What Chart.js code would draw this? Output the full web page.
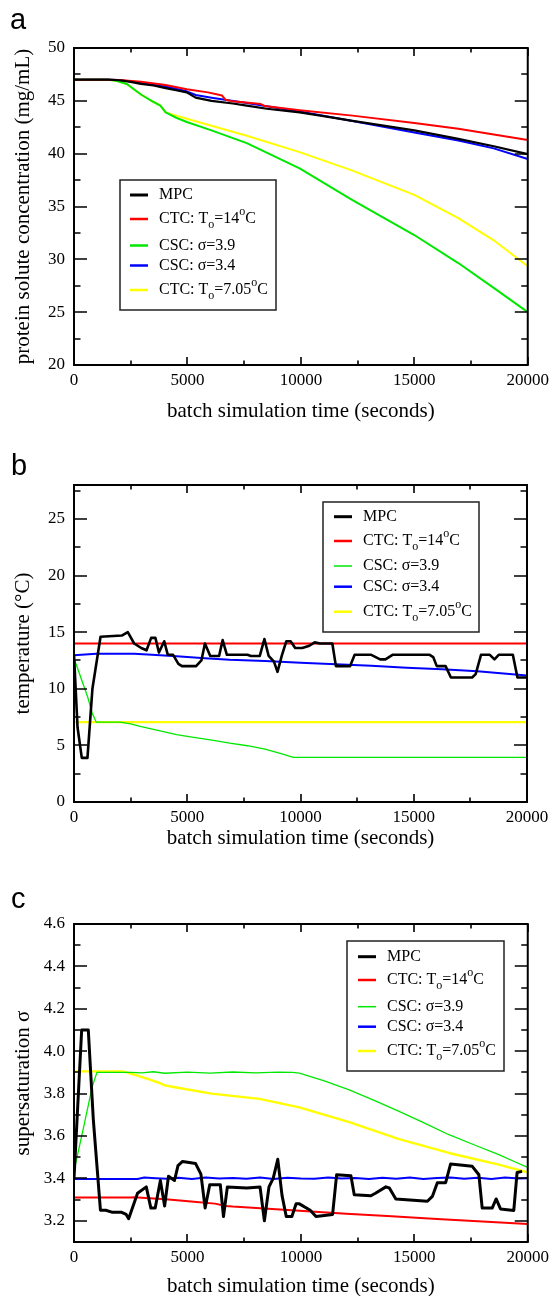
<!DOCTYPE html>
<html><head><meta charset="utf-8">
<script src="https://cdn.jsdelivr.net/npm/chart.js@4.4.1/dist/chart.umd.min.js"></script>
<style>
html,body{margin:0;padding:0;background:#fff;width:554px;height:1296px;overflow:hidden;}
canvas{position:absolute;left:0;}
</style></head><body>
<canvas id="ca" width="554" height="430" style="top:0px"></canvas>
<canvas id="cb" width="554" height="430" style="top:430px"></canvas>
<canvas id="cc" width="554" height="460" style="top:860px"></canvas>
<script>
// ---------------- DATA ----------------
const SERIES_LABELS = ['MPC', 'CTC: T_o=14^oC', 'CSC: σ=3.9', 'CSC: σ=3.4', 'CTC: T_o=7.05^oC'];
const X_TITLE = 'batch simulation time (seconds)';
const Y_TITLES = ['protein solute concentration (mg/mL)', 'temperature (°C)', 'supersaturation σ'];
const PANEL_LETTERS = ['a', 'b', 'c'];

// Panel a: protein solute concentration (mg/mL)
const A_MPC_T = [0,1500,2000,2500,2950,3500,4040,4500,4970,5360,6060,7000,7615,8500,9945,11000,12276,13500,15000,16940,18500,20000];
const A_MPC   = [47.0,47.0,46.95,46.8,46.6,46.45,46.2,46.0,45.8,45.3,45.0,44.75,44.55,44.25,43.9,43.55,43.1,42.7,42.2,41.4,40.7,39.95];
const A_CTC14_T = [0,1500,2000,2950,4040,4970,5905,6527,6682,7000,8236,8400,9945,12276,15000,16940,20000];
const A_CTC14   = [47.0,47.0,46.98,46.8,46.5,46.1,45.8,45.5,45.1,44.95,44.7,44.5,44.1,43.6,42.9,42.35,41.3];
const A_CSC39_T = [0,1500,1865,2331,2953,3419,3808,4040,4507,4973,6061,7615,9945,12276,15000,16939,18500,20000];
const A_CSC39   = [47.0,47.0,46.9,46.6,45.6,45.0,44.55,43.9,43.4,43.0,42.2,41.0,38.6,35.6,32.3,29.65,27.3,25.0];
const A_CSC34_T = [0,1500,2000,2950,4040,4970,5362,6061,7615,9945,12276,15000,16940,18500,20000];
const A_CSC34   = [47.0,47.0,46.97,46.7,46.35,45.9,45.55,45.3,44.8,44.0,43.1,42.0,41.25,40.5,39.5];
const A_CTC705_T = [0,1500,1865,2331,2953,3419,3808,4040,4507,4973,6061,7615,9945,12276,15000,16939,18500,20000];
const A_CTC705   = [47.0,47.0,46.9,46.6,45.6,45.0,44.55,43.9,43.6,43.3,42.65,41.7,40.15,38.4,36.1,33.9,31.8,29.35];

// Panel b: temperature (°C)
const B_MPC_T = [0,156,344,594,813,1172,2109,2375,2656,2969,3203,3406,3594,3750,3984,4141,4375,4609,4766,5391,5625,5781,6016,6406,6563,6750,7656,7813,8203,8406,8594,8828,8984,9172,9375,9563,9766,10078,10391,10625,10859,11406,11563,12188,12391,13125,13516,13750,14063,15703,15859,16016,16406,16641,17578,17734,17969,18359,18563,18750,19375,19578,20000];
const B_MPC   = [13.0,6.6,3.9,3.9,10.0,14.6,14.7,15.0,14.0,13.6,13.4,14.5,14.5,13.2,14.2,13.0,13.0,12.2,12.0,12.0,12.5,14.0,12.9,12.9,14.3,13.0,13.0,12.9,12.9,14.4,12.9,12.4,11.5,12.9,14.2,14.2,13.6,13.6,13.8,14.1,14.0,14.0,12.0,12.0,13.0,13.0,12.6,12.6,13.0,13.0,12.8,12.0,12.0,11.0,11.0,11.3,13.0,13.0,12.6,13.0,13.0,11.0,11.0];
const B_CTC14_T = [0,20000];
const B_CTC14   = [14.0,14.0];
const B_CSC39_T = [0,300,600,813,984,2031,2500,2969,3750,4531,5000,6094,6875,7656,8438,9219,9688,20000];
const B_CSC39   = [12.7,11.0,9.3,7.8,7.05,7.05,6.9,6.66,6.3,5.95,5.8,5.47,5.2,4.97,4.67,4.23,3.95,3.95];
const B_CSC34_T = [0,984,2656,3438,4531,5781,6875,8438,10000,11563,13125,14688,16250,17813,20000];
const B_CSC34   = [12.96,13.1,13.1,13.0,12.87,12.7,12.57,12.46,12.3,12.16,12.04,11.86,11.72,11.54,11.18];
const B_CTC705_T = [0,20000];
const B_CTC705   = [7.05,7.05];

// Panel c: supersaturation σ
const C_MPC_T = [0,338,630,850,1165,1400,1700,2100,2300,2409,2800,3186,3388,3580,3807,3994,4165,4429,4584,4786,5361,5594,5781,5983,6449,6589,6760,7615,8200,8392,8594,8780,8982,9169,9355,9604,9790,9934,10412,10667,11398,11575,12206,12352,13085,13287,13745,13900,14185,15576,15795,16015,16381,16601,17553,17846,17992,18432,18608,18798,19385,19530,19750];
const C_MPC   = [3.40,4.10,4.10,3.68,3.25,3.25,3.24,3.24,3.23,3.21,3.33,3.36,3.26,3.26,3.39,3.27,3.41,3.39,3.46,3.48,3.47,3.42,3.26,3.37,3.37,3.22,3.36,3.355,3.36,3.20,3.36,3.40,3.49,3.32,3.22,3.22,3.28,3.28,3.25,3.22,3.23,3.417,3.413,3.323,3.318,3.33,3.36,3.355,3.303,3.292,3.315,3.38,3.38,3.468,3.457,3.417,3.26,3.26,3.303,3.256,3.249,3.428,3.433];
const C_CTC14_T = [0,2500,2642,4040,5284,6216,6682,6993,9945,12000,14000,16000,18000,20000];
const C_CTC14   = [3.31,3.31,3.311,3.302,3.29,3.281,3.27,3.267,3.247,3.233,3.221,3.209,3.197,3.185];
const C_CSC39_T = [0,400,808,1010,1500,2500,3000,3500,4000,5000,6000,7000,8000,9000,9640,9934,11032,12132,13230,14330,15430,16527,17600,18725,19500,20000];
const C_CSC39   = [3.435,3.63,3.834,3.90,3.90,3.90,3.898,3.903,3.896,3.901,3.897,3.902,3.898,3.901,3.90,3.897,3.860,3.818,3.768,3.716,3.662,3.606,3.56,3.512,3.475,3.452];
const C_CSC34_T = [0,1000,2000,2800,3100,3600,4100,4600,5200,5800,6400,7000,7600,8200,8800,9400,10000,10600,11200,11800,12400,13000,13600,14200,14800,15400,16000,16600,17200,17800,18400,19000,19600,20000];
const C_CSC34   = [3.397,3.397,3.397,3.397,3.404,3.401,3.398,3.403,3.397,3.404,3.399,3.402,3.398,3.404,3.397,3.403,3.399,3.398,3.404,3.399,3.402,3.397,3.403,3.398,3.404,3.397,3.402,3.404,3.398,3.403,3.397,3.404,3.399,3.401];
const C_CTC705_T = [0,2167,2800,3341,3780,4000,4507,6061,8176,9934,12132,14330,16527,18725,20000];
const C_CTC705   = [3.905,3.905,3.885,3.866,3.85,3.839,3.829,3.80,3.775,3.735,3.665,3.585,3.52,3.465,3.428];

// ---------------- STYLE ----------------
const SERIF = '"Liberation Serif", "Times New Roman", serif';
const SANS = '"Liberation Sans", Arial, sans-serif';
const COLORS = ['#000000', '#ff0000', '#00e800', '#0000ff', '#ffff00'];

function pts(T, V) { return T.map((t, i) => ({x: t, y: V[i]})); }

function ds(T, V, k, w) {
  return {label: SERIES_LABELS[k], data: pts(T, V), borderColor: COLORS[k], backgroundColor: COLORS[k],
    borderWidth: w, pointRadius: 0, fill: false, tension: 0, borderJoinStyle: 'round', borderCapStyle: 'butt'};
}

function drawRich(ctx, str, x, y, size) {
  let cx = x, i = 0;
  ctx.textBaseline = 'middle'; ctx.textAlign = 'left';
  while (i < str.length) {
    const ch = str[i];
    if ((ch === '_' || ch === '^') && i + 1 < str.length) {
      const c = str[i + 1];
      ctx.font = Math.round(size * 0.78) + 'px ' + SERIF;
      const dy = ch === '_' ? 6 : -7;
      ctx.fillText(c, cx, y + dy);
      cx += ctx.measureText(c).width;
      i += 2;
    } else {
      let j = i;
      while (j < str.length && str[j] !== '_' && str[j] !== '^') j++;
      const run = str.slice(i, j);
      ctx.font = size + 'px ' + SERIF;
      ctx.fillText(run, cx, y);
      cx += ctx.measureText(run).width;
      i = j;
    }
  }
}

const framePlugin = {
  id: 'frame',
  afterDraw(chart, args, o) {
    const ctx = chart.ctx, a = chart.chartArea;
    const xs = chart.scales.x, ys = chart.scales.y;
    ctx.save();
    ctx.strokeStyle = '#000';
    ctx.lineWidth = 1.6;
    // x ticks (inward, bottom and top)
    for (let v = xs.min; v <= xs.max + 1e-6; v += o.xMinor) {
      const isMaj = Math.abs(v / o.xMajor - Math.round(v / o.xMajor)) < 1e-6;
      const len = isMaj ? 8 : 4.5;
      const px = Math.round(xs.getPixelForValue(v));
      ctx.beginPath();
      ctx.moveTo(px, a.bottom); ctx.lineTo(px, a.bottom - len);
      ctx.moveTo(px, a.top); ctx.lineTo(px, a.top + len);
      ctx.stroke();
    }
    // y ticks (inward, left and right)
    const y0 = Math.ceil(ys.min / o.yMinor - 1e-6) * o.yMinor;
    for (let k = 0; ; k++) {
      const v = y0 + k * o.yMinor;
      if (v > ys.max + 1e-9) break;
      const isMaj = Math.abs(v / o.yMajor - Math.round(v / o.yMajor)) < 1e-6;
      const len = isMaj ? 13 : 6.5;
      const py = Math.round(ys.getPixelForValue(v));
      ctx.beginPath();
      ctx.moveTo(a.left, py); ctx.lineTo(a.left + len, py);
      ctx.moveTo(a.right, py); ctx.lineTo(a.right - len, py);
      ctx.stroke();
    }
    // plot frame
    ctx.lineWidth = 2;
    ctx.strokeRect(a.left, a.top, a.right - a.left, a.bottom - a.top);
    // legend
    const L = o.legend;
    ctx.fillStyle = '#fff';
    ctx.fillRect(L.x0, L.y0, L.x1 - L.x0, L.y1 - L.y0);
    ctx.lineWidth = 1.5;
    ctx.strokeStyle = '#222';
    ctx.strokeRect(L.x0, L.y0, L.x1 - L.x0, L.y1 - L.y0);
    chart.data.datasets.forEach((d, i) => {
      const yy = L.rows[i];
      ctx.strokeStyle = d.borderColor;
      ctx.lineWidth = L.widths[i];
      ctx.beginPath(); ctx.moveTo(L.lx0, yy); ctx.lineTo(L.lx1, yy); ctx.stroke();
      ctx.fillStyle = '#000';
      drawRich(ctx, d.label, L.tx, yy, 16);
    });
    // panel letter
    ctx.fillStyle = '#000';
    ctx.font = '29px ' + SANS;
    ctx.textAlign = 'left'; ctx.textBaseline = 'alphabetic';
    ctx.fillText(o.letter, o.letterX, o.letterY);
    ctx.restore();
  }
};

function makePanel(id, p) {
  return new Chart(document.getElementById(id), {
    type: 'line',
    data: {datasets: p.datasets},
    options: {
      responsive: false, animation: false, devicePixelRatio: 1,
      layout: {padding: {left: 0, right: p.padR, top: p.top, bottom: 0}},
      plugins: {legend: {display: false}, tooltip: {enabled: false}, frame: p.frame},
      scales: {
        x: {
          type: 'linear', min: 0, max: 20000,
          afterFit: s => { s.height = p.xH; },
          ticks: {stepSize: 5000, autoSkip: false, maxRotation: 0, padding: p.xTickPad, color: '#000',
            font: {family: SERIF, size: 17}, callback: v => String(v)},
          grid: {display: false, drawTicks: false}, border: {display: false},
          title: {display: true, text: X_TITLE, color: '#000', font: {family: SERIF, size: 21},
            padding: {top: 0, bottom: p.xTitlePad}}
        },
        y: {
          type: 'linear', min: p.ymin, max: p.ymax,
          afterFit: s => { s.width = 74; },
          ticks: {stepSize: p.ystep, includeBounds: false, padding: 9, color: '#000',
            font: {family: SERIF, size: 17}, callback: p.yfmt},
          grid: {display: false, drawTicks: false}, border: {display: false},
          title: {display: true, text: p.ytitle, color: '#000', font: {family: SERIF, size: 21},
            padding: {top: 11, bottom: 0}}
        }
      }
    },
    plugins: [framePlugin]
  });
}

// Panel a
makePanel('ca', {
  datasets: [ds(A_MPC_T, A_MPC, 0, 2.2), ds(A_CTC14_T, A_CTC14, 1, 2), ds(A_CSC39_T, A_CSC39, 2, 2),
             ds(A_CSC34_T, A_CSC34, 3, 2), ds(A_CTC705_T, A_CTC705, 4, 2)],
  padR: 25, top: 48, xH: 65, xTickPad: 5, xTitlePad: 6,
  ymin: 20, ymax: 50, ystep: 5, yfmt: v => String(v), ytitle: Y_TITLES[0],
  frame: {xMinor: 2500, xMajor: 5000, yMinor: 2.5, yMajor: 5, letter: PANEL_LETTERS[0], letterX: 10, letterY: 29,
    legend: {x0: 120, y0: 180, x1: 276, y1: 310, rows: [195, 219, 245.5, 265.5, 290], lx0: 130, lx1: 148, tx: 159,
      widths: [3, 2.5, 2.5, 2.5, 2.5]}}
});

// Panel b
makePanel('cb', {
  datasets: [ds(B_MPC_T, B_MPC, 0, 2.6), ds(B_CTC14_T, B_CTC14, 1, 2), ds(B_CSC39_T, B_CSC39, 2, 1.3),
             ds(B_CSC34_T, B_CSC34, 3, 2), ds(B_CTC705_T, B_CTC705, 4, 2.2)],
  padR: 27, top: 55, xH: 58, xTickPad: 5, xTitlePad: 9,
  ymin: 0, ymax: 28, ystep: 5, yfmt: v => String(v), ytitle: Y_TITLES[1],
  frame: {xMinor: 2500, xMajor: 5000, yMinor: 2.5, yMajor: 5, letter: PANEL_LETTERS[1], letterX: 11, letterY: 45,
    legend: {x0: 323, y0: 72, x1: 479, y1: 202, rows: [86.7, 111, 136, 156.7, 181.7], lx0: 334, lx1: 352, tx: 363,
      widths: [3, 2.5, 1.5, 2.5, 2.5]}}
});

// Panel c
makePanel('cc', {
  datasets: [ds(C_MPC_T, C_MPC, 0, 3), ds(C_CTC14_T, C_CTC14, 1, 2), ds(C_CSC39_T, C_CSC39, 2, 1.3),
             ds(C_CSC34_T, C_CSC34, 3, 2), ds(C_CTC705_T, C_CTC705, 4, 2.4)],
  padR: 25, top: 64, xH: 78, xTickPad: 5, xTitlePad: 21,
  ymin: 3.1, ymax: 4.6, ystep: 0.2, yfmt: v => Number(v).toFixed(1), ytitle: Y_TITLES[2],
  frame: {xMinor: 2500, xMajor: 5000, yMinor: 0.1, yMajor: 0.2, letter: PANEL_LETTERS[2], letterX: 11, letterY: 48,
    legend: {x0: 347, y0: 81, x1: 504, y1: 211, rows: [96.7, 120, 146.7, 166.7, 191], lx0: 358, lx1: 376, tx: 387,
      widths: [3, 2.5, 1.5, 2.5, 2.5]}}
});
</script>
</body></html>
